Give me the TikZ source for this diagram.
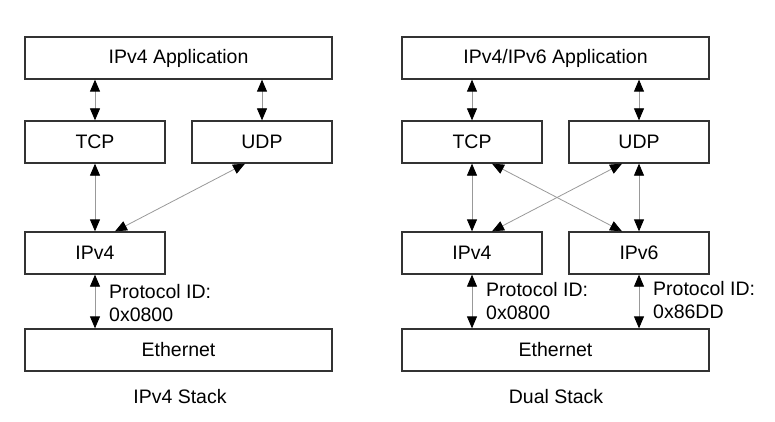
\documentclass[tikz,border=0pt]{standalone}
\usepackage{fontspec}
\setmainfont{Liberation Sans}
\usetikzlibrary{
  arrows.meta, % for Triangle arrow tips
  positioning, % for relative positioning of the layers
}
\tikzset{
  layer/.style={ % style for each protocol layer
    rectangle,draw=black!80,line width=1.3pt, % drawn as a dark rectangle
    minimum width=140pt, % narrow layers
    minimum height=42pt, % same height for every layer
    inner sep=0pt,
  },
  wide/.style={ % layers spanning the whole stack
    layer,
    minimum width=307pt,
  },
  conn/.style={ % style for the connections
    {Triangle[length=12pt,width=10pt,color=black]}-{Triangle[length=12pt,width=10pt,color=black]}, % black tips at both ends
    draw=black!40,line width=0.8pt, % thin grey shaft
  },
  info/.style={ % protocol id labels
    align=left,anchor=west,inner sep=0pt,
  },
}

\begin{document}
\begin{tikzpicture}[x=1pt,y=-1pt,font=\fontsize{19.5}{23}\selectfont]

	\useasboundingbox (0,0) rectangle (775,422);

	% IPv4 stack
	\node[wide] (app4) at (178.5,58) {IPv4 Application};
	\node[layer] (tcp4) at (95,142) {TCP};
	\node[layer] (udp4) at (262,142) {UDP};
	\node[layer] (ip4) at (95,253) {IPv4};
	\node[wide] (eth4) at (178.5,350) {Ethernet};
	\node (cap4) at (180,397) {IPv4 Stack};

	\draw[conn] (app4.south -| tcp4) -- (tcp4);
	\draw[conn] (app4.south -| udp4) -- (udp4);
	\draw[conn] (tcp4) -- (ip4);
	\draw[conn] ([xshift=-17pt]udp4.south) -- ([xshift=20pt]ip4.north);
	\draw[conn] (ip4) -- (eth4.north -| ip4);

	\node[info] (id4) at (109,303) {Protocol ID:\\0x0800};

	% dual stack
	\node[wide] (appd) at (555.5,58) {IPv4/IPv6 Application};
	\node[layer] (tcpd) at (472,142) {TCP};
	\node[layer] (udpd) at (639,142) {UDP};
	\node[layer] (ipd4) at (472,253) {IPv4};
	\node[layer] (ipd6) at (639,253) {IPv6};
	\node[wide] (ethd) at (555.5,350) {Ethernet};
	\node (capd) at (556,397) {Dual Stack};

	\draw[conn] (appd.south -| tcpd) -- (tcpd);
	\draw[conn] (appd.south -| udpd) -- (udpd);
	\draw[conn] (tcpd) -- (ipd4);
	\draw[conn] (udpd) -- (ipd6);
	\draw[conn] ([xshift=20pt]tcpd.south) -- ([xshift=-17pt]ipd6.north);
	\draw[conn] ([xshift=-17pt]udpd.south) -- ([xshift=20pt]ipd4.north);
	\draw[conn] (ipd4) -- (ethd.north -| ipd4);
	\draw[conn] (ipd6) -- (ethd.north -| ipd6);

	\node[info] (idd4) at (486,301) {Protocol ID:\\0x0800};
	\node[info] (idd6) at (653,300) {Protocol ID:\\0x86DD};

\end{tikzpicture}
\end{document}
